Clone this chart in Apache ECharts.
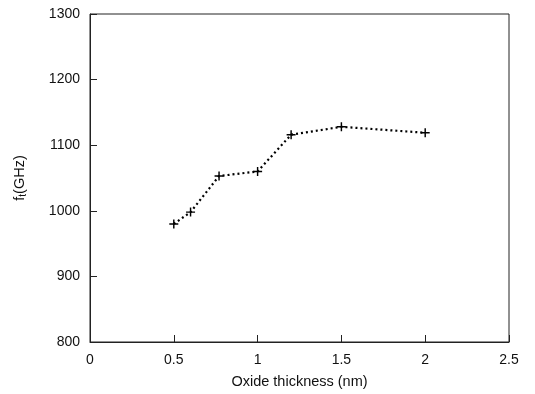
<!DOCTYPE html>
<html><head><meta charset="utf-8">
<script src="https://cdn.jsdelivr.net/npm/echarts@6/dist/echarts.min.js"></script>
<style>html,body{margin:0;padding:0;background:#fff}#c{width:535px;height:394px}</style>
</head><body><div id="c"></div>
<script>
const thickness = [0.5, 0.6, 0.77, 1.0, 1.2, 1.5, 2.0];
const ftGHz = [980, 998, 1053, 1060, 1116, 1128, 1119];
const xTicks = [0, 0.5, 1, 1.5, 2, 2.5];
const yTicks = [800, 900, 1000, 1100, 1200, 1300];

const chart = echarts.init(document.getElementById('c'));
const font = 'Liberation Sans, Arial, sans-serif';
chart.setOption({
  animation: false,
  backgroundColor: '#fff',
  grid: {left: 90, right: 26, top: 14, bottom: 51, show: true, borderColor: '#222', borderWidth: 1, backgroundColor: 'transparent'},
  xAxis: {
    type: 'value', min: xTicks[0], max: xTicks[xTicks.length-1], interval: 0.5,
    name: 'Oxide thickness (nm)', nameLocation: 'middle', nameGap: 32,
    nameTextStyle: {fontFamily: font, fontSize: 14.5, color: '#111'},
    axisLine: {lineStyle: {color: '#222'}},
    axisTick: {inside: true, length: 7, lineStyle: {color: '#222'}},
    axisLabel: {fontFamily: font, fontSize: 14, color: '#111', margin: 11, formatter: v => String(v)},
    splitLine: {show: false}
  },
  yAxis: {
    type: 'value', min: yTicks[0], max: yTicks[yTicks.length-1], interval: 100,
    name: '{a|f}{b|t}{a|(GHz)}', nameLocation: 'middle', nameGap: 62, nameRotate: 90,
    nameTextStyle: {rich: {a: {fontFamily: font, fontSize: 14.5, color: '#111'}, b: {fontFamily: font, fontSize: 10, color: '#111', verticalAlign: 'bottom', padding: [6,0,0,0]}}},
    axisLine: {lineStyle: {color: '#222'}},
    axisTick: {inside: true, length: 7, lineStyle: {color: '#222'}},
    axisLabel: {fontFamily: font, fontSize: 14, color: '#111', margin: 10, formatter: v => String(v)},
    splitLine: {show: false}
  },
  series: [{
    type: 'line',
    data: thickness.map((x, i) => [x, ftGHz[i]]),
    symbol: 'path://M4.2,0h1.6v4.2h4.2v1.6h-4.2v4.2h-1.6v-4.2h-4.2v-1.6h4.2z',
    symbolSize: 9,
    itemStyle: {color: '#000'},
    lineStyle: {color: '#000', width: 2.2, type: [2, 3]}
  }]
});
</script></body></html>
